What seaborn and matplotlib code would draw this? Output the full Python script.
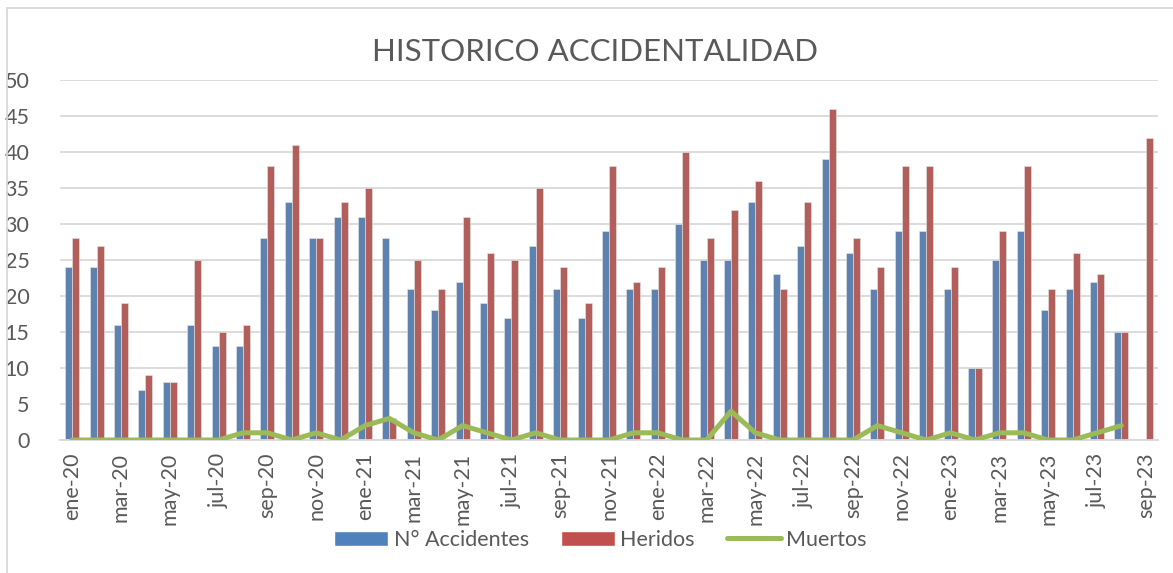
import matplotlib
matplotlib.use("Agg")
import matplotlib.pyplot as plt
from matplotlib.patches import Rectangle, Patch
from matplotlib.lines import Line2D
import seaborn as sns
import pandas as pd
import numpy as np

meses = ["ene", "feb", "mar", "abr", "may", "jun", "jul", "ago", "sep", "oct", "nov", "dic"]
months = [f"{m}-{y}" for y in ["20", "21", "22"] for m in meses] + [f"{m}-23" for m in meses[:9]]

accidentes = [24, 24, 16, 7, 8, 16, 13, 13, 28, 33, 28, 31,
              31, 28, 21, 18, 22, 19, 17, 27, 21, 17, 29, 21,
              21, 30, 25, 25, 33, 23, 27, 39, 26, 21, 29, 29,
              21, 10, 25, 29, 18, 21, 22, 15, np.nan]
heridos = [28, 27, 19, 9, 8, 25, 15, 16, 38, 41, 28, 33,
           35, 3, 25, 21, 31, 26, 25, 35, 24, 19, 38, 22,
           24, 40, 28, 32, 36, 21, 33, 46, 28, 24, 38, 38,
           24, 10, 29, 38, 21, 26, 23, 15, 42]
muertos = [0, 0, 0, 0, 0, 0, 0, 1, 1, 0, 1, 0,
           2, 3, 1, 0, 2, 1, 0, 1, 0, 0, 0, 1,
           1, 0, 0, 4, 1, 0, 0, 0, 0, 2, 1, 0,
           1, 0, 1, 1, 0, 0, 1, 2, np.nan]

BLUE = "#4F81BD"
RED = "#C0504D"
GREEN = "#9BBB59"
TEXT = "#595959"

df = pd.DataFrame({"mes": months, "N° Accidentes": accidentes, "Heridos": heridos})
long = df.melt(id_vars="mes", var_name="serie", value_name="valor")

sns.set_style("white")
plt.rcParams["font.family"] = ["Lato", "DejaVu Sans"]

fig = plt.figure(figsize=(11.73, 5.73), dpi=100)
ax = fig.add_axes([60 / 1173, 1 - 440 / 573, 1098 / 1173, 360 / 573])

sns.barplot(data=long, x="mes", y="valor", hue="serie", order=months,
            hue_order=["N° Accidentes", "Heridos"], palette=[BLUE, RED],
            width=0.58, errorbar=None, edgecolor="#e8e8e8", linewidth=0.4,
            legend=False, ax=ax)
sns.lineplot(x=np.arange(len(months)), y=muertos, color=GREEN, linewidth=3.6,
             ax=ax, zorder=5)

ax.set_xlim(-0.5, len(months) - 0.5)
ax.set_ylim(0, 50)
ax.set_yticks(range(0, 51, 5))
ax.grid(axis="y", color="#D9D9D9", linewidth=1.3)
ax.set_axisbelow(True)
for s in ["left", "right", "top"]:
    ax.spines[s].set_visible(False)
ax.spines["bottom"].set_color("#D9D9D9")
ax.spines["bottom"].set_linewidth(1.3)

ax.set_xticks(np.arange(0, len(months), 2))
ax.set_xticklabels(months[::2], rotation=90, fontsize=15.5, color=TEXT)
ax.set_xticks(np.arange(-0.5, len(months), 2), minor=True)
ax.tick_params(axis="x", which="major", length=0, pad=9)
ax.tick_params(axis="x", which="minor", length=6, color="#D9D9D9", width=1.3)
ax.tick_params(axis="y", length=0, pad=22, labelsize=15.5, labelcolor=TEXT)
ax.set_xlabel("")
ax.set_ylabel("")

fig.text(0.507, 1 - 52 / 573, "HISTORICO ACCIDENTALIDAD", ha="center", va="center",
         fontsize=22.5, color=TEXT)

handles = [Patch(facecolor=BLUE), Patch(facecolor=RED),
           Line2D([], [], color=GREEN, linewidth=3.6, solid_capstyle="round")]
fig.legend(handles, ["N° Accidentes", "Heridos", "Muertos"], loc="center",
           bbox_to_anchor=(0.512, 1 - 540 / 573), ncol=3, frameon=False,
           fontsize=15.5, labelcolor=TEXT, handlelength=2.5, handleheight=0.7,
           handletextpad=0.25, columnspacing=1.5)

fig.patches.append(Rectangle((7 / 1173, -0.1), 1.2, 1.1 - 8 / 573, transform=fig.transFigure,
                             fill=False, edgecolor="#D9D9D9", linewidth=1.3))

fig.savefig("out.png", dpi=100)
